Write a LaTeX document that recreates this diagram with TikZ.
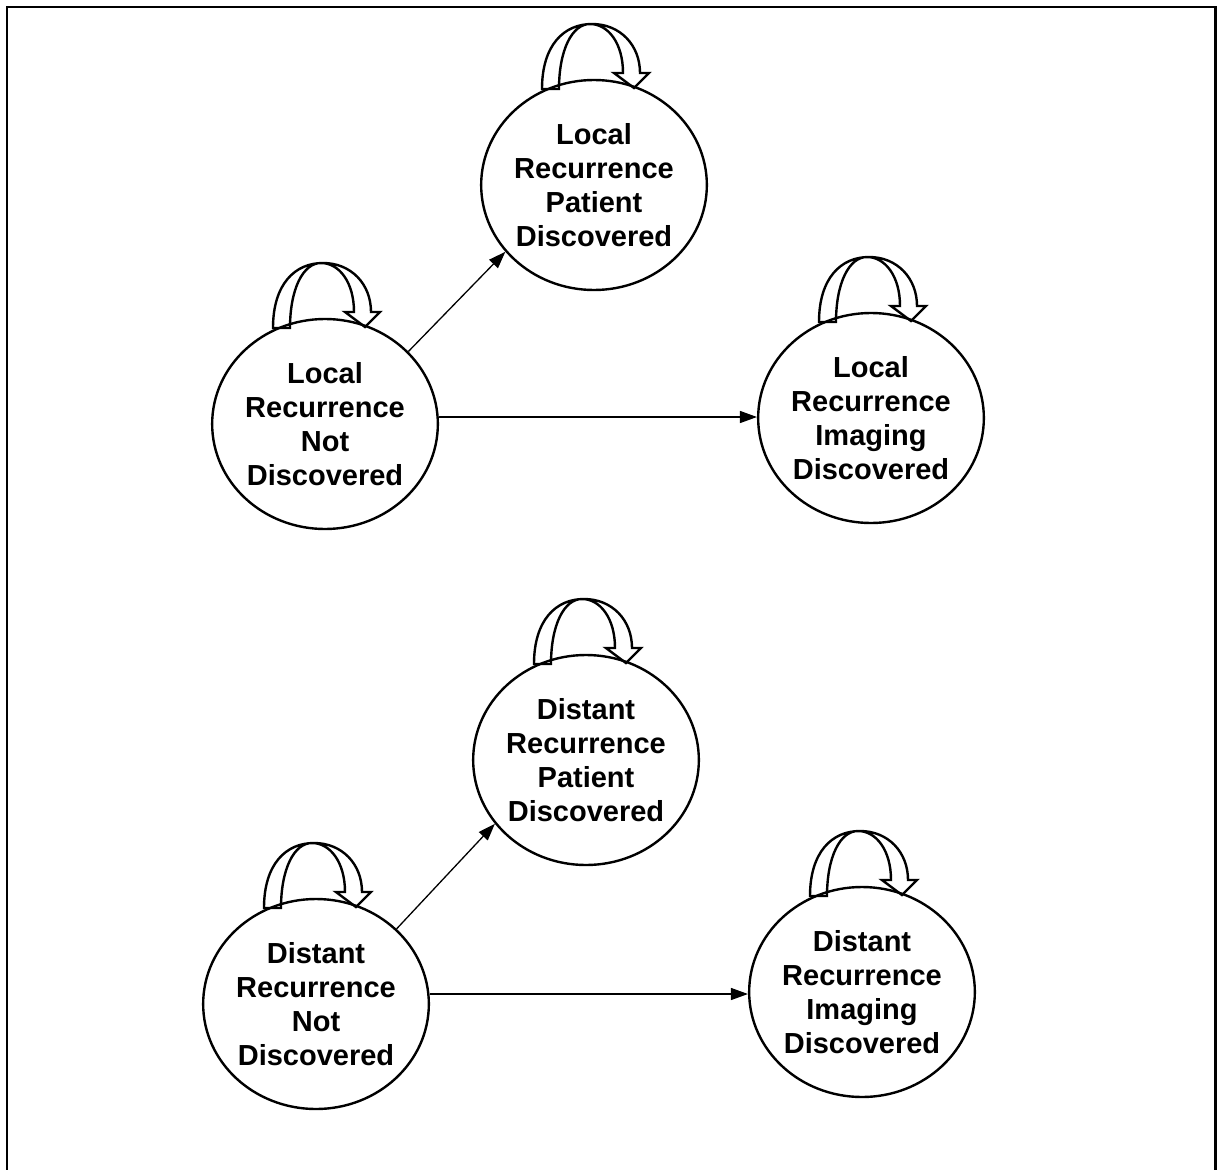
\documentclass[tikz,border=0pt]{standalone}
\usepackage{fontspec}
\setmainfont{Liberation Sans}
\usetikzlibrary{shapes.geometric,arrows.meta,calc}
\begin{document}
\begin{tikzpicture}[x=1pt,y=-1pt,
  state/.style={ellipse,draw,line width=2.4pt,minimum width=225pt,minimum height=210pt,
    inner sep=0pt,align=center,font=\fontsize{29}{34}\selectfont\bfseries},
  arr/.style={line width=1.3pt,-{Triangle[length=17pt,width=12pt]}},
  selfloop/.pic={
    \draw[line width=2.4pt,line join=miter]
      (-52,-96) .. controls (-52,-140) and (-30,-161) .. (-2,-161)
      .. controls (26,-161) and (46,-140) .. (46,-112)
      -- (55,-112) -- (40,-97) -- (20,-112) -- (29,-112)
      .. controls (29,-142) and (14,-161) .. (-4,-161)
      .. controls (-22,-161) and (-35,-135) .. (-35,-96) -- cycle;
  }]
\useasboundingbox (0,0) rectangle (1222,1169);
\draw[line width=2.5pt] (7,1200) -- (7,7) -- (1215.5,7) -- (1215.5,1200);

\node[state] (LRPD) at (594,185) {Local\\Recurrence\\Patient\\Discovered};
\node[state] (LRND) at (325,424) {Local\\Recurrence\\Not\\Discovered};
\node[state] (LRID) at (871,418) {Local\\Recurrence\\Imaging\\Discovered};
\node[state] (DRPD) at (586,760) {Distant\\Recurrence\\Patient\\Discovered};
\node[state] (DRND) at (316,1004) {Distant\\Recurrence\\Not\\Discovered};
\node[state] (DRID) at (862,992) {Distant\\Recurrence\\Imaging\\Discovered};

\foreach \n in {LRPD,LRND,LRID,DRPD,DRND,DRID} {\pic at (\n) {selfloop};}

\draw[arr] (LRND.41) -- (LRPD.217);
\draw[arr] ($(LRND.east)+(0,-7)$) -- ($(LRID.west)+(0,-1)$);
\draw[arr] (DRND.43) -- (DRPD.215);
\draw[arr] ($(DRND.east)+(0,-10)$) -- ($(DRID.west)+(0,2)$);
\end{tikzpicture}
\end{document}
